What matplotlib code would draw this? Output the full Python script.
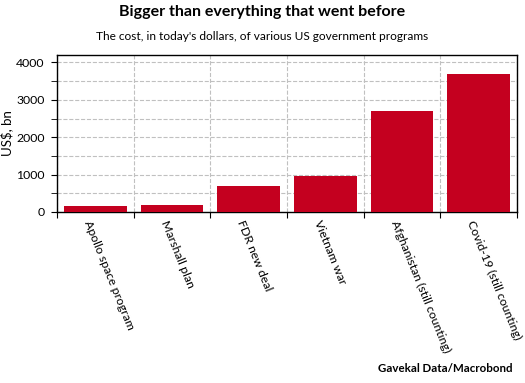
import numpy as np
import matplotlib.pyplot as plt

programs = ["Apollo space program", "Marshall plan", "FDR new deal", "Vietnam war",
            "Afghanistan (still counting)", "Covid-19 (still counting)"]
cost_bn = [150, 190, 700, 950, 2700, 3700]

plt.rcParams['font.family'] = ['Lato', 'DejaVu Sans']

fig = plt.figure(figsize=(5.25, 3.83), dpi=100)
ax = fig.add_axes([57 / 525, 1 - 212 / 383, 460 / 525, 157 / 383])

x = np.arange(len(programs))
ax.bar(x, cost_bn, width=0.82, color="#c4001f", zorder=3)

ax.set_xlim(-0.5, len(programs) - 0.5)
ax.set_ylim(0, 4200)

# category boundaries carry the ticks and the grid, labels sit in the middle
ax.set_xticks(np.arange(len(programs) + 1) - 0.5)
ax.set_xticklabels([])
ax.set_xticks(x - 0.04, minor=True)
ax.set_xticklabels(programs, minor=True, rotation=-68, ha="left", va="top",
                   rotation_mode="anchor", fontsize=8.8)
ax.tick_params(axis="x", which="minor", length=0, pad=5)
ax.tick_params(axis="x", which="major", length=4, direction="out")

ax.set_yticks([0, 1000, 2000, 3000, 4000])
ax.set_yticks(np.arange(500, 4000, 1000), minor=True)
ax.tick_params(axis="y", which="both", length=4, labelsize=8.8, pad=5)
ax.grid(True, which="both", axis="y", linestyle="--", color="#c0c0c0", linewidth=0.8)
ax.grid(True, which="major", axis="x", linestyle="--", color="#c0c0c0", linewidth=0.8)

for s in ax.spines.values():
    s.set_linewidth(1.0)

ax.set_ylabel("US$, bn", fontsize=9.5)
ax.yaxis.set_label_coords(-44 / 460, 0.5)

fig.text(0.5, 1 - 12 / 383, "Bigger than everything that went before", ha="center",
         va="center", fontsize=11.5, fontweight="bold")
fig.text(0.5, 1 - 37 / 383, "The cost, in today's dollars, of various US government programs",
         ha="center", va="center", fontsize=8.6)
fig.text(1 - 12 / 525, 1 - 369 / 383, "Gavekal Data/Macrobond", ha="right", va="center",
         fontsize=8.3, fontweight="bold")

fig.savefig("out.png", dpi=100)
